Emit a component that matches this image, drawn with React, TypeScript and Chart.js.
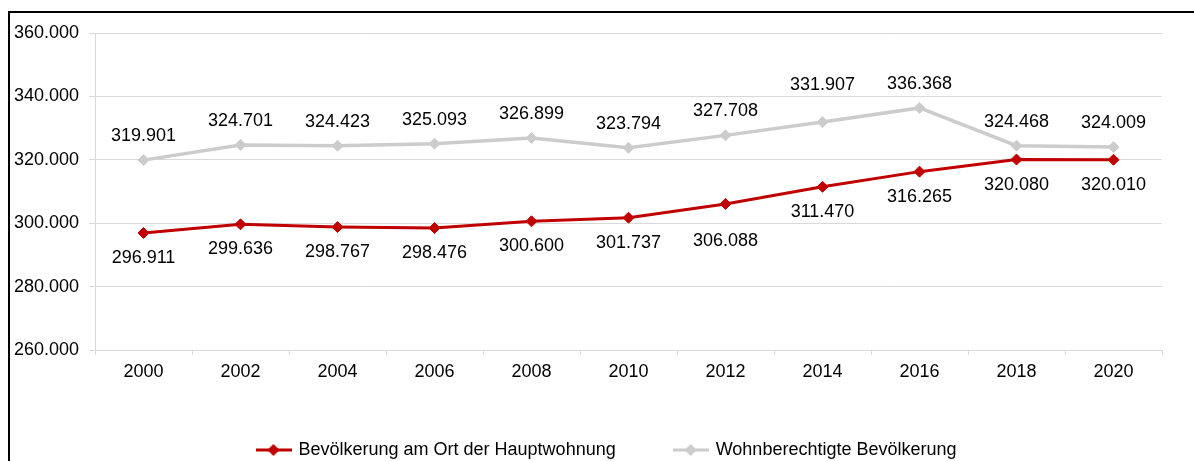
import React, { useEffect, useRef } from 'react';
import { Chart, registerables } from 'chart.js';

Chart.register(...registerables);

// ---- data ----
const years = ['2000', '2002', '2004', '2006', '2008', '2010', '2012', '2014', '2016', '2018', '2020'];
const hauptwohnung = [296911, 299636, 298767, 298476, 300600, 301737, 306088, 311470, 316265, 320080, 320010];
const wohnberechtigt = [319901, 324701, 324423, 325093, 326899, 323794, 327708, 331907, 336368, 324468, 324009];
const seriesNames = ['Bevölkerung am Ort der Hauptwohnung', 'Wohnberechtigte Bevölkerung'];
const yMin = 260000;
const yMax = 360000;
const yStep = 20000;

// ---- style ----
const RED = '#c00000';
const GREY = '#cccccc';
const GRID = '#d9d9d9';
const FONT = '"Liberation Sans", Arial, Helvetica, sans-serif';
const FONT_SIZE = 18;
// label placement (style): base distance from point and per-point extra nudges
const labelStyle = [
  { dir: 1, offset: 25, extra: [0, 0, 0, 0, 0, 0, 12, 0, 0, 0, 0] },
  { dir: -1, offset: 24, extra: [0, 0, 0, 0, 0, 0, 0, 13, 0, 0, 0] },
];
const LEGEND_SHIFT = 42;

function fmt(v: number): string {
  return String(Math.round(v)).replace(/\B(?=(\d{3})+(?!\d))/g, '.');
}

function legendMarker(color: string): HTMLCanvasElement {
  const c = document.createElement('canvas');
  c.width = 36;
  c.height = 14;
  const ctx = c.getContext('2d')!;
  ctx.strokeStyle = color;
  ctx.lineWidth = 3;
  ctx.beginPath();
  ctx.moveTo(0, 7);
  ctx.lineTo(36, 7);
  ctx.stroke();
  ctx.fillStyle = color;
  ctx.beginPath();
  ctx.moveTo(18, 1);
  ctx.lineTo(24, 7);
  ctx.lineTo(18, 13);
  ctx.lineTo(12, 7);
  ctx.closePath();
  ctx.fill();
  return c;
}

const valueLabels = {
  id: 'valueLabels',
  afterDatasetsDraw(chart: any, _args: any, opts: any) {
    const ctx = chart.ctx;
    ctx.save();
    ctx.font = `${FONT_SIZE}px ${FONT}`;
    ctx.fillStyle = '#000';
    ctx.textAlign = 'center';
    ctx.textBaseline = 'middle';
    chart.data.datasets.forEach((ds: any, di: number) => {
      const meta = chart.getDatasetMeta(di);
      const cfg = opts.series[di];
      meta.data.forEach((pt: any, i: number) => {
        const off = cfg.offset + (cfg.extra[i] || 0);
        ctx.fillText(fmt(ds.data[i]), pt.x, pt.y + cfg.dir * off);
      });
    });
    ctx.restore();
  },
};

const legendShift = {
  id: 'legendShift',
  afterLayout(chart: any) {
    if (chart.legend) chart.legend.left += LEGEND_SHIFT;
  },
};

export default function App() {
  const ref = useRef<HTMLCanvasElement | null>(null);

  useEffect(() => {
    document.body.style.overflow = 'hidden';
    const canvas = ref.current!;
    const markers = [legendMarker(RED), legendMarker(GREY)];
    const chart = new Chart(canvas, {
      type: 'line',
      data: {
        labels: years,
        datasets: [
          {
            label: seriesNames[0],
            data: hauptwohnung,
            borderColor: RED,
            backgroundColor: RED,
            borderWidth: 3,
            pointStyle: 'rectRot',
            pointRadius: 5.5,
            pointBorderWidth: 1,
            pointBackgroundColor: RED,
            pointBorderColor: RED,
            tension: 0,
          },
          {
            label: seriesNames[1],
            data: wohnberechtigt,
            borderColor: GREY,
            backgroundColor: GREY,
            borderWidth: 3.5,
            pointStyle: 'rectRot',
            pointRadius: 5.5,
            pointBorderWidth: 1,
            pointBackgroundColor: GREY,
            pointBorderColor: GREY,
            tension: 0,
          },
        ],
      },
      options: {
        animation: false,
        responsive: false,
        devicePixelRatio: 1,
        layout: { padding: { top: 33, right: 32, left: 10, bottom: 0 } },
        scales: {
          x: {
            offset: true,
            grid: {
              offset: true,
              drawOnChartArea: false,
              drawTicks: true,
              tickLength: 5,
              color: GRID,
            },
            border: { color: GRID, width: 1 },
            ticks: {
              color: '#000',
              padding: 6,
              font: { family: FONT, size: FONT_SIZE },
              maxRotation: 0,
            },
            afterFit: (s: any) => {
              s.height = 32;
            },
          },
          y: {
            min: yMin,
            max: yMax,
            grid: { color: GRID, tickLength: 6, lineWidth: 1 },
            border: { color: GRID, width: 1 },
            ticks: {
              stepSize: yStep,
              color: '#000',
              padding: 10,
              font: { family: FONT, size: FONT_SIZE },
              callback: (v: any) => fmt(Number(v)),
            },
            afterFit: (s: any) => {
              s.width = 85;
            },
          },
        },
        plugins: {
          tooltip: { enabled: false },
          legend: {
            position: 'bottom',
            maxHeight: 79,
            labels: {
              usePointStyle: true,
              pointStyleWidth: 32,
              padding: 59,
              color: '#000',
              font: { family: FONT, size: FONT_SIZE },
              generateLabels: (ch: any) => {
                const items = Chart.defaults.plugins.legend.labels.generateLabels(ch);
                return items.map((it: any, i: number) => ({ ...it, pointStyle: markers[i], lineWidth: 0 }));
              },
            },
          },
          valueLabels: { series: labelStyle },
        } as any,
      },
      plugins: [valueLabels, legendShift],
    } as any);
    return () => chart.destroy();
  }, []);

  return (
    <>
      <div
        style={{
          position: 'fixed',
          left: 8,
          top: 11,
          width: 1400,
          height: 700,
          border: '2px solid #000',
          boxSizing: 'border-box',
        }}
      />
      <canvas
        ref={ref}
        width={1194}
        height={461}
        style={{ position: 'fixed', left: 0, top: 0, width: 1194, height: 461 }}
      />
    </>
  );
}
